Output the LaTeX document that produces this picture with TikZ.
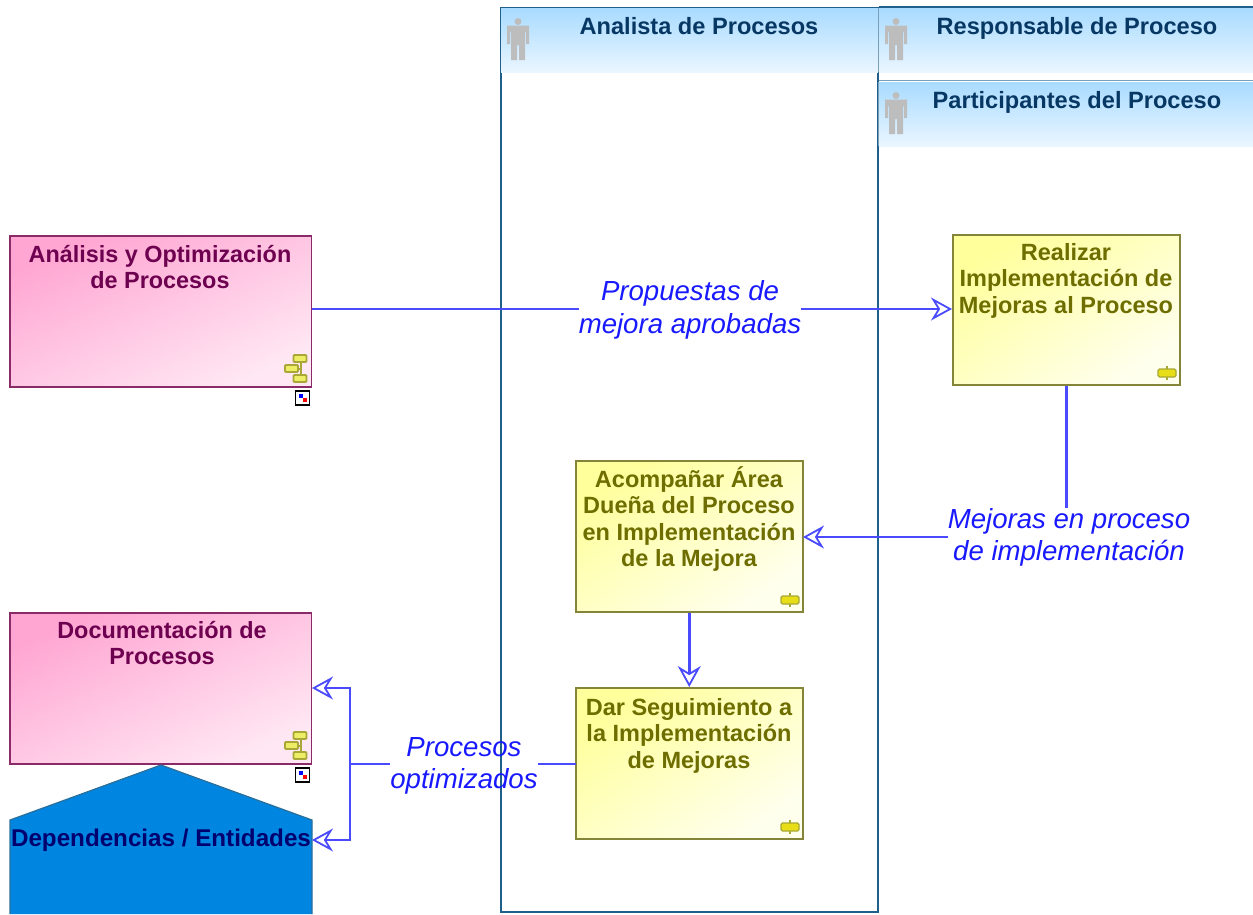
\documentclass[tikz,border=0pt]{standalone}
\usepackage{fontspec}
\setmainfont{Liberation Sans}
\usetikzlibrary{arrows.meta,calc}
\definecolor{lanehead}{HTML}{A9DBFF}
\definecolor{lanetail}{HTML}{EAF6FF}
\definecolor{laneline}{HTML}{1F5F8B}
\definecolor{lanetext}{HTML}{073763}
\definecolor{pinkA}{HTML}{FFA6D2}
\definecolor{pinkB}{HTML}{FFE8F4}
\definecolor{pinkline}{HTML}{8A2A66}
\definecolor{pinktext}{HTML}{6E0050}
\definecolor{yelA}{HTML}{FFFF9C}
\definecolor{yelB}{HTML}{FFFFEE}
\definecolor{yelline}{HTML}{85853A}
\definecolor{yeltext}{HTML}{6E6E00}
\definecolor{conn}{HTML}{4A4AFF}
\definecolor{depfill}{HTML}{0085E0}
\definecolor{depline}{HTML}{2A6F9A}
\definecolor{deptext}{HTML}{00006E}
\definecolor{iconfill}{HTML}{EEEE66}
\definecolor{iconline}{HTML}{A8A838}
\definecolor{persongray}{HTML}{BDBDBD}
\tikzset{
  lanebox/.style={draw=laneline,line width=1.6pt,fill=white,inner sep=0pt,anchor=north west},
  lanehd/.style={top color=lanehead,bottom color=lanetail,draw=none,inner sep=0pt,anchor=north west},
  lanetitle/.style={font=\fontsize{23.6}{26}\selectfont\bfseries,text=lanetext,inner sep=0pt,anchor=base},
  pinkbox/.style={draw=pinkline,line width=1.5pt,left color=pinkA,right color=pinkB,shading angle=25,inner sep=0pt,anchor=north west},
  yelbox/.style={draw=yelline,line width=1.8pt,left color=yelA,right color=yelB,shading angle=35,inner sep=0pt,anchor=north west},
  pinktitle/.style={font=\fontsize{23.4}{26}\selectfont\bfseries,text=pinktext,align=center,inner sep=0pt},
  yeltitle/.style={font=\fontsize{23.5}{26.6}\selectfont\bfseries,text=yeltext,align=center,inner sep=0pt},
  flowlabel/.style={font=\fontsize{27.6}{32.4}\selectfont\itshape,text=blue!90!white,align=center,inner sep=0pt},
  flow/.style={draw=conn,line width=2.5pt},
  flowarrow/.style={flow,-{Stealth[open,fill=white,length=21pt,width=23pt,inset=7pt,line width=1.8pt]}},
  person/.pic={
    \fill[persongray] (0,-18.5) circle (3.5);
    \fill[persongray] (-11,-14.5) -- (11,-14.5) -- (11,4) -- (8,4) -- (8,-8) -- (7,-8) -- (7,20) -- (1,20) -- (1,5) -- (-1,5) -- (-1,20) -- (-7,20) -- (-7,-8) -- (-8,-8) -- (-8,4) -- (-11,4) -- cycle;
  },
  taskicon/.pic={
    \draw[iconline,line width=1.4pt] (0,-7) -- (0,7);
    \fill[yellow!90!black,draw=iconline,line width=1.2pt,rounded corners=1.5pt] (-9,-4) rectangle (9,4);
  },
  groupicon/.pic={
    \draw[iconline,line width=2pt] (5,-10) -- (5,10);
    \draw[iconline,line width=2pt] (-4,0) -- (5,0);
    \foreach \cx/\cy in {4/-10,-4.5/0,4/10}{
      \fill[iconfill,draw=iconline,line width=1.8pt,rounded corners=1pt] (\cx-6.5,\cy-3.5) rectangle (\cx+6.5,\cy+3.5);
    }
  },
  linkicon/.pic={
    \draw[black,line width=1.4pt,fill=white] (-7,-7) rectangle (7,7);
    \fill[blue] (-4,-4) rectangle (0,0);
    \fill[red] (0,0) rectangle (4,4);
  },
}
\begin{document}
\begin{tikzpicture}[x=1pt,y=-1pt]
\useasboundingbox (0,0) rectangle (1253,914);
% swimlanes
\node[lanebox,minimum width=377.4pt,minimum height=904.5pt] (laneA) at (500,6.5) {};
\draw[laneline,line width=1.6pt] (878.5,7) -- (1253,7);
\draw[laneline!60,line width=1pt] (879,80) -- (1253,80);
\node[lanehd,minimum width=377pt,minimum height=64pt] (headA) at (501,8) {};
\node[lanehd,minimum width=374pt,minimum height=64pt] (headB) at (879,8) {};
\node[lanehd,minimum width=374pt,minimum height=64pt] (headC) at (879,82) {};
\draw[laneline!60,line width=1pt] (878.5,8) -- (878.5,72) (878.5,82) -- (878.5,146);
\pic at (518,40) {person};
\pic at (896,40) {person};
\pic at (896,114) {person};
\node[lanetitle] (tA) at (699,34) {Analista de Procesos};
\node[lanetitle] (tB) at (1077,34) {Responsable de Proceso};
\node[lanetitle] (tC) at (1077,108) {Participantes del Proceso};
% boxes
\node[pinkbox,minimum width=301.5pt,minimum height=151pt] (analisis) at (9,235) {};
\node[pinkbox,minimum width=301.5pt,minimum height=151pt] (docu) at (9,612) {};
\node[yelbox,minimum width=226.7pt,minimum height=149.7pt] (realizar) at (952,234) {};
\node[yelbox,minimum width=226.7pt,minimum height=150.7pt] (acomp) at (575,460) {};
\node[yelbox,minimum width=226.7pt,minimum height=150.7pt] (dar) at (575,687) {};
\node[pinktitle,anchor=north] (analisisT) at (160,245) {Análisis y Optimización\\de Procesos};
\node[pinktitle,anchor=north] (docuT) at (162,621) {Documentación de\\Procesos};
\node[yeltitle,anchor=north] (realizarT) at (1066,243) {Realizar\\Implementación de\\Mejoras al Proceso};
\node[yeltitle,anchor=north] (acompT) at (689,466) {Acompañar Área\\Dueña del Proceso\\en Implementación\\de la Mejora};
\node[yeltitle,anchor=north] (darT) at (689,698) {Dar Seguimiento a\\la Implementación\\de Mejoras};
% dependency shape
\path[fill=depfill,draw=depline,line width=1.2pt] (10,914) -- (10,820) -- (161,765) -- (312,820) -- (312,914);
\node[font=\fontsize{24.2}{26}\selectfont\bfseries,text=deptext,inner sep=0pt,anchor=base] (dep) at (161,846) {Dependencias / Entidades};
\coordinate (depE) at (312,840);
\coordinate (docuE) at (312,688);
% icons
\pic at (296,368.5) {groupicon};
\pic at (296,745.5) {groupicon};
\pic at (302.5,398) {linkicon};
\pic at (302.5,775) {linkicon};
\pic at (1167,373) {taskicon};
\pic at (790,600) {taskicon};
\pic at (790,827) {taskicon};
% flow labels
\node[flowlabel] (lProp) at (690,310) {Propuestas de\\mejora aprobadas};
\node[flowlabel] (lMej) at (1069,537.5) {Mejoras en proceso\\de implementación};
\node[flowlabel] (lProc) at (464,766) {Procesos\\optimizados};
% connectors
\coordinate (analisisE) at (312,309);
\coordinate (realizarW) at (952,309);
\draw[flow] (analisisE) -- (lProp.west |- analisisE);
\draw[flowarrow] (lProp.east |- realizarW) -- (realizarW);
\draw[flow] (realizar.south) -- (realizar.south |- lMej.north);
\coordinate (acompE) at (803,537);
\draw[flowarrow] (lMej.west |- acompE) -- (acompE);
\draw[flowarrow] (acomp.south) -- (dar.north);
\coordinate (darW) at (576,764);
\coordinate (junc) at (350,764);
\draw[flow] (darW) -- (lProc.east |- darW);
\draw[flow] (lProc.west |- junc) -- (junc);
\draw[flowarrow] (junc) |- (docuE);
\draw[flowarrow] (junc) |- (depE);
\end{tikzpicture}
\end{document}
